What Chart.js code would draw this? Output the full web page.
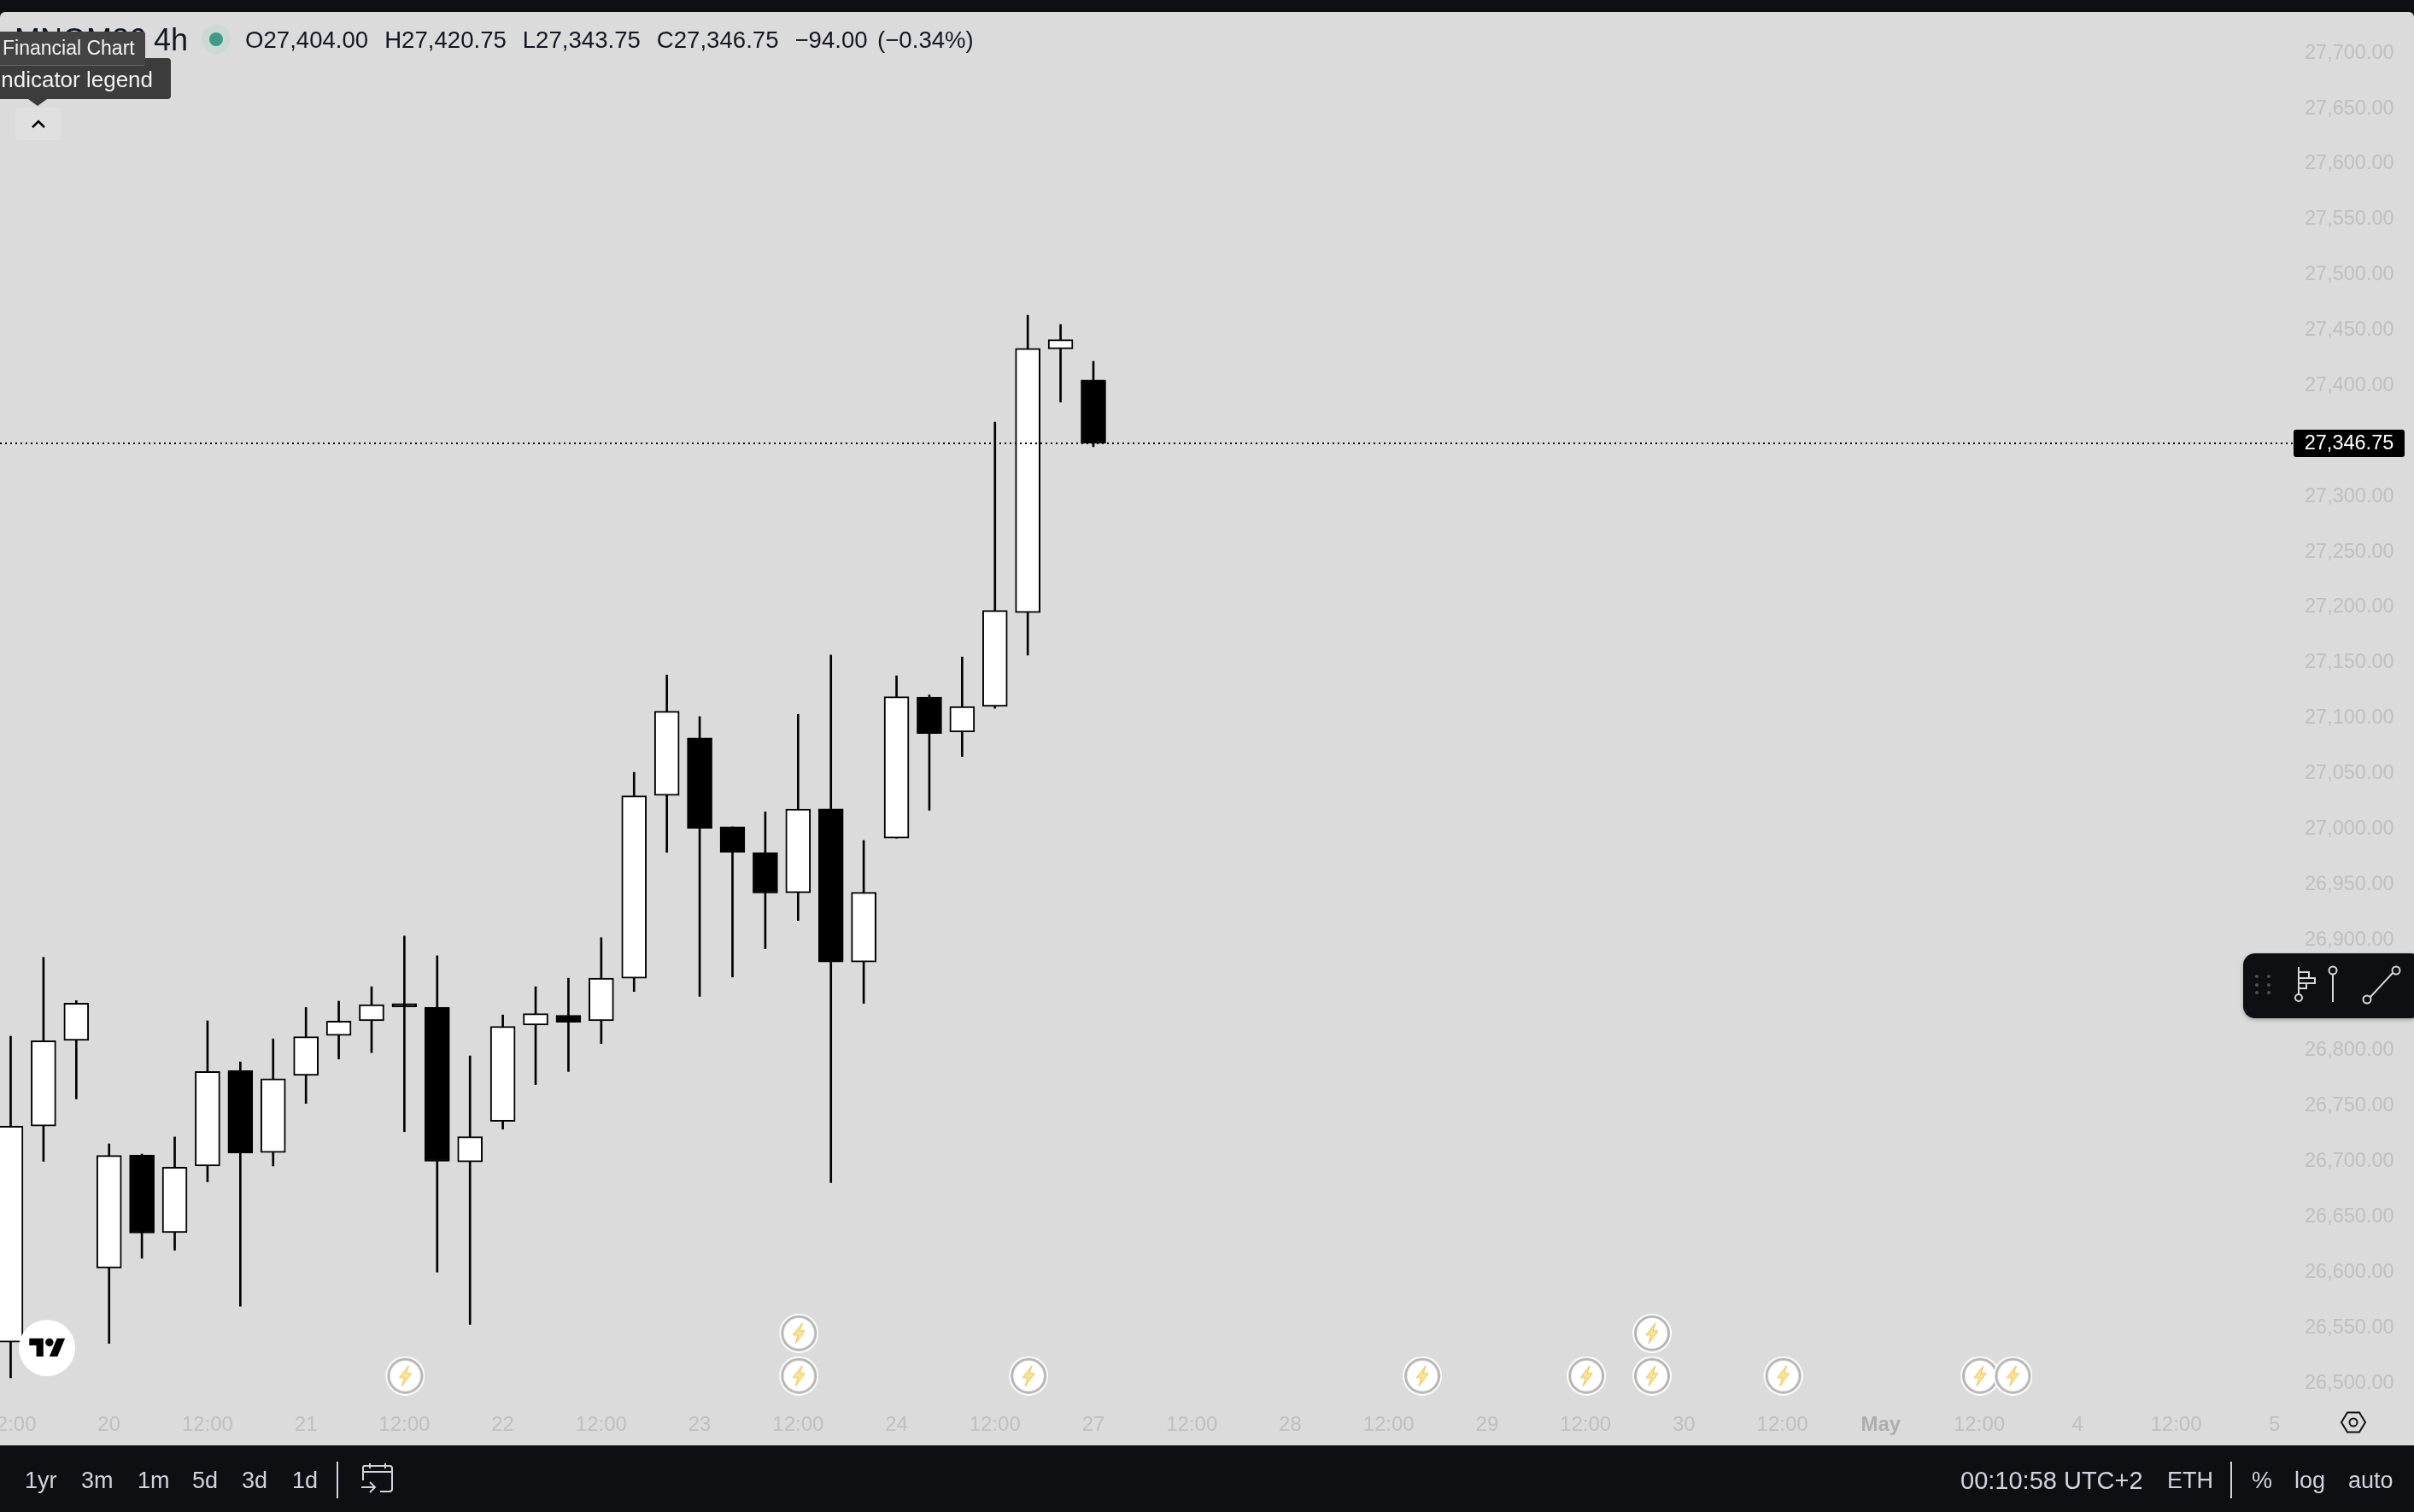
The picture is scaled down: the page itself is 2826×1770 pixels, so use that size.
<!DOCTYPE html>
<html lang="en">
<head>
  <meta charset="UTF-8" />
  <title>MNQM26 4h</title>
  <script src="https://cdn.jsdelivr.net/npm/chart.js"></script>
  <style>
    html, body {
      margin: 0;
      padding: 0;
      width: 2826px;
      height: 1770px;
      overflow: hidden;
      background: #0d0f13;
      font-family: "Liberation Sans", Arial, sans-serif;
    }
    #pane {
      position: absolute;
      left: 0;
      top: 14px;
      width: 2826px;
      height: 1678px;
      background: #dbdbdb;
      border-radius: 6px 6px 0 0;
    }
    canvas#chart {
      position: absolute;
      left: 0;
      top: 0;
    }
    .t {
      position: absolute;
      white-space: nowrap;
    }
    .box {
      position: absolute;
    }
    .bar-t {
      position: absolute;
      top: 1713px;
      line-height: 40px;
      font-size: 27px;
      color: #d1d4dc;
      white-space: nowrap;
    }
    .sep {
      position: absolute;
      width: 2px;
      top: 1711px;
      height: 43px;
      background: #d1d4dc;
    }
    svg {
      position: absolute;
      overflow: visible;
    }
  </style>
</head>
<body>
  <div id="pane"></div>
  <canvas id="chart" width="2826" height="1770"></canvas>

  <!-- legend row -->
  <div class="t" style="left:17px;top:27px;font-size:36px;line-height:40px;color:#131722">MNQM26</div>
  <div class="t" style="left:180px;top:27px;font-size:36px;line-height:40px;color:#131722">4h</div>
  <div class="box" style="left:236px;top:29px;width:34px;height:34px;border-radius:50%;background:#cbd9d5"></div>
  <div class="box" style="left:245px;top:38px;width:16px;height:16px;border-radius:50%;background:#3d9c85"></div>
  <div class="t" style="left:287px;top:30px;font-size:27.6px;line-height:34px;color:#131722;word-spacing:1.8px">O27,404.00&nbsp; H27,420.75&nbsp; L27,343.75&nbsp; C27,346.75&nbsp; −94.00 <span style="margin-left:2px">(−0.34%)</span></div>

  <!-- tooltips -->
  <div class="box" style="left:0;top:68px;width:200px;height:48px;background:#3c3c3c;border-radius:0 4px 4px 0"></div>
  <div class="t" style="left:-6px;top:75px;font-size:26px;line-height:36px;color:#f2f2f2">Indicator legend</div>
  <div class="box" style="left:0;top:37px;width:170px;height:39px;background:#444;border-radius:0 3px 3px 0;border-bottom:1px solid #666"></div>
  <div class="t" style="left:3px;top:38px;font-size:23px;line-height:37px;color:#f2f2f2">Financial Chart</div>
  <svg style="left:0;top:0" width="100" height="180">
    <path d="M33 116 L55 116 L44 124 Z" fill="#3c3c3c"/>
    <rect x="18" y="126" width="53" height="38" rx="3" fill="#e0e0e0"/>
    <path d="M38 149 L45 142 L52 149" fill="none" stroke="#000" stroke-width="2.5"/>
  </svg>

  <!-- TV logo -->
  <div class="box" style="left:22px;top:1545px;width:66px;height:66px;border-radius:50%;background:#fff"></div>
  <svg style="left:34px;top:1562px" width="43" height="33" viewBox="0 0 36 28">
    <path d="M14 22H7V11H0V4h14v18zM28 22h-8l7.5-18h8L28 22z" fill="#000"/>
    <circle cx="20" cy="8" r="4" fill="#000"/>
  </svg>

  <!-- settings hexagon -->
  <svg style="left:2740px;top:1652px" width="30" height="26">
    <path d="M8 1.5 L22 1.5 L29 13 L22 24.5 L8 24.5 L1 13 Z" fill="none" stroke="#111" stroke-width="2"/>
    <circle cx="15" cy="13" r="4.5" fill="none" stroke="#111" stroke-width="2"/>
  </svg>

  <!-- drawing tools panel -->
  <div class="box" style="left:2626px;top:1116px;width:210px;height:76px;background:#0d0f13;border-radius:14px;box-shadow:0 2px 5px rgba(0,0,0,.25)"></div>
  <svg style="left:0;top:0" width="2826" height="1770">
    <g fill="#4f5257">
      <circle cx="2642" cy="1143" r="2"/><circle cx="2656" cy="1143" r="2"/>
      <circle cx="2642" cy="1153" r="2"/><circle cx="2656" cy="1153" r="2"/>
      <circle cx="2642" cy="1162" r="2"/><circle cx="2656" cy="1162" r="2"/>
    </g>
    <g fill="none" stroke="#d6d8de" stroke-width="2">
      <path d="M2691 1132 V1163"/>
      <circle cx="2691" cy="1168" r="4"/>
      <path d="M2691 1138 H2703 V1145 H2691 M2703 1145 H2710 V1151 H2691 M2700 1151 V1157 H2691"/>
      <circle cx="2731" cy="1136" r="4.5"/>
      <path d="M2731 1141 V1173"/>
      <circle cx="2771" cy="1170" r="4.5"/>
      <circle cx="2805" cy="1136" r="4.5"/>
      <path d="M2775 1167 L2801 1139"/>
    </g>
  </svg>

  <!-- bottom toolbar -->
  <div class="bar-t" style="left:29px">1yr</div>
  <div class="bar-t" style="left:95px">3m</div>
  <div class="bar-t" style="left:161px">1m</div>
  <div class="bar-t" style="left:225px">5d</div>
  <div class="bar-t" style="left:283px">3d</div>
  <div class="bar-t" style="left:342px">1d</div>
  <div class="sep" style="left:394px"></div>
  <svg style="left:423px;top:1711px" width="38" height="40">
    <path d="M2 22 V7 Q2 5 4 5 H33 Q36 5 36 8 V32 Q36 35 33 35 H22 M2 12 H36 M10 2 V8 M28 2 V8" fill="none" stroke="#d1d4dc" stroke-width="2"/>
    <path d="M0 30 H16 M10 24 L16 30 L10 36" fill="none" stroke="#d1d4dc" stroke-width="2"/>
  </svg>
  <div class="bar-t" style="left:2295px;font-size:29px">00:10:58 UTC+2</div>
  <div class="bar-t" style="left:2537px">ETH</div>
  <div class="sep" style="left:2611px"></div>
  <div class="bar-t" style="left:2636px">%</div>
  <div class="bar-t" style="left:2686px">log</div>
  <div class="bar-t" style="left:2749px">auto</div>

  <script>
    // 4h bars, index 0 = left most bar on screen
    const opens  = [26535.75, 26730.75, 26808, 26602.75, 26704.75, 26634.75, 26694.75, 26780.75, 26707, 26776.5, 26812.5, 26825.75, 26841.25, 26837.75, 26698.5, 26735, 26822, 26830.75, 26825.75, 26864.25, 27029, 27081, 27000.75, 26977.5, 26941.25, 27017, 26878.75, 26990.5, 27117.75, 27086.25, 27109.5, 27194, 27432, 27404];
    const highs  = [26811.75, 26883, 26844, 26714.75, 26705.5, 26721, 26825.75, 26788.75, 26809.5, 26837.75, 26843.5, 26856.5, 26902.25, 26884.5, 26794, 26831, 26856.5, 26864.25, 26900.75, 27050, 27137.75, 27100.25, 27000.75, 27014.25, 27102.25, 27155.75, 26988.5, 27137, 27119.75, 27154, 27366, 27462.25, 27454, 27420.75];
    const lows   = [26503.75, 26699, 26755.25, 26534.75, 26611.5, 26618.75, 26680.5, 26568.25, 26694.75, 26751.25, 26791.25, 26797, 26725.75, 26599, 26551.75, 26728, 26768.25, 26780, 26805.25, 26852.25, 26977.75, 26847.75, 26865.25, 26890.75, 26916.25, 26679.75, 26841.5, 26990.5, 27015.75, 27064.25, 27107.75, 27155.75, 27384, 27343.75];
    const closes = [26730.75, 26807.75, 26841.75, 26704.25, 26634.25, 26693.75, 26780, 26706.5, 26773.5, 26811.5, 26825.5, 26840.25, 26838.25, 26699, 26721.25, 26820.75, 26832.25, 26824.5, 26864.25, 27028.75, 27105, 26999.5, 26977.75, 26941, 27016.75, 26878.75, 26941.75, 27118.25, 27085, 27109.25, 27196, 27432.5, 27440.25, 27346.75];

    const priceTicks = [26500, 26550, 26600, 26650, 26700, 26750, 26800, 26850, 26900, 26950, 27000, 27050, 27100, 27150, 27200, 27250, 27300, 27350, 27400, 27450, 27500, 27550, 27600, 27650, 27700];
    const timeTickIdx = [0, 3, 6, 9, 12, 15, 18, 21, 24, 27, 30, 33, 36, 39, 42, 45, 48, 51, 54, 57, 60, 63, 66, 69];
    const timeTickLabels = ['12:00', '20', '12:00', '21', '12:00', '22', '12:00', '23', '12:00', '24', '12:00', '27', '12:00', '28', '12:00', '29', '12:00', '30', '12:00', 'May', '12:00', '4', '12:00', '5'];

    // lightning markers under the bars
    const eventIdx   = [12, 24, 24, 31, 43, 48, 50, 50, 54, 60, 61];
    const eventPrice = [26505.4, 26505.4, 26543.9, 26505.4, 26505.4, 26505.4, 26505.4, 26543.9, 26505.4, 26505.4, 26505.4];

    const lastPrice = closes[closes.length - 1];

    const fmt = v => v.toLocaleString('en-US', { minimumFractionDigits: 2, maximumFractionDigits: 2 });

    function makeEventIcon() {
      const c = document.createElement('canvas');
      c.width = 48;
      c.height = 46;
      const g = c.getContext('2d');
      g.translate(2, 0);
      g.beginPath();
      g.arc(23, 23, 23, 0, Math.PI * 2);
      g.fillStyle = '#ffffff';
      g.fill();
      g.beginPath();
      g.arc(23, 23, 19.5, 0, Math.PI * 2);
      g.strokeStyle = '#b4b4b4';
      g.lineWidth = 3;
      g.stroke();
      g.beginPath();
      g.moveTo(27, 11);
      g.lineTo(16, 25);
      g.lineTo(22, 25);
      g.lineTo(19, 35);
      g.lineTo(30, 20);
      g.lineTo(24, 20);
      g.closePath();
      g.fillStyle = '#fde68a';
      g.fill();
      g.strokeStyle = '#ecc05a';
      g.lineWidth = 1;
      g.stroke();
      return c;
    }

    // black tag on the price axis
    const lastPriceTag = {
      id: 'lastPriceTag',
      afterDraw(chart) {
        const ctx = chart.ctx;
        const y = chart.scales.y.getPixelForValue(lastPrice);
        ctx.save();
        ctx.fillStyle = '#000';
        ctx.beginPath();
        ctx.roundRect(2685, y - 16, 130, 32, 3);
        ctx.fill();
        ctx.fillStyle = '#fff';
        ctx.font = '23.5px "Liberation Sans"';
        ctx.textAlign = 'center';
        ctx.textBaseline = 'middle';
        ctx.fillText(fmt(lastPrice), 2750, y + 1);
        ctx.restore();
      }
    };

    new Chart(document.getElementById('chart').getContext('2d'), {
      data: {
        datasets: [
          {
            type: 'line',
            order: 0,
            data: [{ x: -0.325, y: lastPrice }, { x: 69.71, y: lastPrice }],
            borderColor: '#000',
            borderWidth: 2,
            borderDash: [2, 4],
            pointRadius: 0
          },
          {
            type: 'bar',
            order: 1,
            grouped: false,
            barThickness: 29,
            data: opens.map((o, i) => ({ x: i, y: [Math.min(o, closes[i]), Math.max(o, closes[i])] })),
            backgroundColor: opens.map((o, i) => closes[i] >= o ? '#ffffff' : '#000000'),
            borderColor: '#000',
            borderWidth: 2,
            borderSkipped: false
          },
          {
            type: 'bar',
            order: 2,
            grouped: false,
            barThickness: 2,
            data: lows.map((l, i) => ({ x: i, y: [l, highs[i]] })),
            backgroundColor: '#000'
          },
          {
            type: 'scatter',
            order: 3,
            data: eventIdx.map((x, i) => ({ x: x, y: eventPrice[i] })),
            pointStyle: makeEventIcon(),
            clip: false
          }
        ]
      },
      options: {
        responsive: false,
        animation: false,
        devicePixelRatio: 1,
        events: [],
        layout: { autoPadding: false, padding: { top: 14, bottom: 78 } },
        plugins: { legend: { display: false }, tooltip: { enabled: false } },
        scales: {
          x: {
            type: 'linear',
            min: -0.325,
            max: 69.71,
            offset: false,
            grid: { display: false, drawTicks: false },
            border: { display: false },
            afterBuildTicks: s => { s.ticks = timeTickIdx.map(v => ({ value: v })); },
            afterFit: s => { s.height = 52; s.paddingLeft = 0; s.paddingRight = 0; },
            ticks: {
              autoSkip: false,
              maxRotation: 0,
              padding: 14,
              color: ctx => ctx.tick && timeTickLabels[timeTickIdx.indexOf(ctx.tick.value)] === 'May' ? '#adadad' : '#bfbfbf',
              font: ctx => ({
                family: '"Liberation Sans"',
                size: 24,
                weight: ctx.tick && timeTickLabels[timeTickIdx.indexOf(ctx.tick.value)] === 'May' ? 'bold' : 'normal'
              }),
              callback: v => timeTickLabels[timeTickIdx.indexOf(v)]
            }
          },
          y: {
            position: 'right',
            min: 26482.79,
            max: 27735.95,
            grid: { display: false, drawTicks: false },
            border: { display: false },
            afterBuildTicks: s => { s.ticks = priceTicks.map(v => ({ value: v })); },
            afterFit: s => { s.width = 136; s.paddingTop = 0; s.paddingBottom = 0; },
            ticks: {
              autoSkip: false,
              padding: 8,
              labelOffset: 1.5,
              color: '#bfbfbf',
              font: { family: '"Liberation Sans"', size: 23.5 },
              callback: v => fmt(v)
            }
          }
        }
      },
      plugins: [lastPriceTag]
    });
  </script>
</body>
</html>
